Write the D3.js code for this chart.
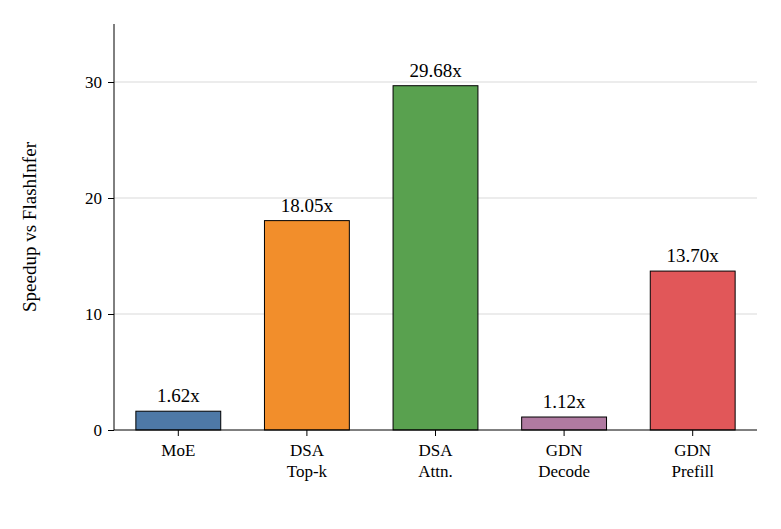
<!DOCTYPE html>
<html><head><meta charset="utf-8">
<script src="https://cdn.jsdelivr.net/npm/d3@7"></script>
<style>body{margin:0;background:#fff}text{font-family:"Liberation Serif",serif}</style>
</head><body><svg id="c" width="781" height="529"></svg>
<script>
const categories = [["MoE"], ["DSA", "Top-k"], ["DSA", "Attn."], ["GDN", "Decode"], ["GDN", "Prefill"]];
const speedups = [1.62, 18.05, 29.68, 1.12, 13.70];
const colors = ["#4e79a7", "#f28e2b", "#59a14f", "#b07aa1", "#e15759"];
const yTicks = [0, 10, 20, 30];

const margin = {top: 24, left: 114, right: 24, bottom: 99};
const width = 781 - margin.left - margin.right, height = 529 - margin.top - margin.bottom;
const svg = d3.select("#c").append("g").attr("transform", `translate(${margin.left},${margin.top})`);

const x = d3.scaleBand().domain(d3.range(categories.length)).range([0, width]).paddingInner(0.34).paddingOuter(0.17);
const y = d3.scaleLinear().domain([0, 35]).range([height, 0]);

// grid
svg.selectAll(".grid").data(yTicks.slice(1)).enter().append("line")
  .attr("x1", 0).attr("x2", width).attr("y1", d => y(d)).attr("y2", d => y(d))
  .attr("stroke", "#d9d9d9").attr("stroke-width", 1);

svg.selectAll(".bar").data(speedups).enter().append("rect")
  .attr("x", (d, i) => x(i)).attr("width", x.bandwidth())
  .attr("y", d => y(d)).attr("height", d => y(0) - y(d))
  .attr("fill", (d, i) => colors[i]).attr("stroke", "#000").attr("stroke-width", 1);

svg.selectAll(".lbl").data(speedups).enter().append("text")
  .attr("x", (d, i) => x(i) + x.bandwidth() / 2).attr("y", d => y(d) - 9)
  .attr("text-anchor", "middle").attr("font-size", 19).text(d => d.toFixed(2) + "x");

const ya = svg.append("g").call(d3.axisLeft(y).tickValues(yTicks).tickSize(6).tickPadding(6));
ya.select(".domain").attr("d", `M0,${y(35)}V${height}`);
ya.selectAll("text").attr("font-size", 17).attr("font-family", "Liberation Serif");

const xa = svg.append("g").attr("transform", `translate(0,${height})`)
  .call(d3.axisBottom(x).tickSize(6).tickFormat(""));
xa.select(".domain").attr("d", `M0,0H${width}`);
xa.selectAll(".tick").each(function(d) {
  const t = d3.select(this).append("text").attr("fill", "#000").attr("text-anchor", "middle")
    .attr("font-size", 17).attr("font-family", "Liberation Serif").attr("y", 26);
  categories[d].forEach((s, k) => t.append("tspan").attr("x", 0).attr("dy", k ? 21 : 0).text(s));
});

svg.append("text").attr("transform", `translate(-78,${height / 2}) rotate(-90)`)
  .attr("text-anchor", "middle").attr("font-size", 19).text("Speedup vs FlashInfer");
</script></body></html>
